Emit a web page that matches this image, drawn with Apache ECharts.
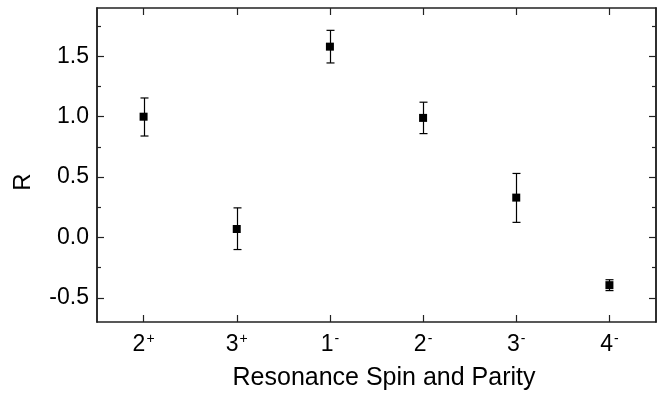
<!DOCTYPE html>
<html>
<head>
<meta charset="utf-8">
<script src="https://cdn.jsdelivr.net/npm/echarts@6/dist/echarts.min.js"></script>
<style>html,body{margin:0;padding:0;background:#fff}#chart{width:664px;height:401px}</style>
</head>
<body>
<div id="chart"></div>
<script>
// Data
var spins = ['2', '3', '1', '2', '3', '4'];
var parities = ['+', '+', '-', '-', '-', '-'];
var categories = spins.map(function (s, i) { return s + parities[i]; });
var values = [1.00, 0.07, 1.58, 0.99, 0.33, -0.395];
var errUp = [0.155, 0.175, 0.135, 0.13, 0.20, 0.045];
var errDown = [0.16, 0.17, 0.135, 0.13, 0.205, 0.045];
var yMajorTicks = [-0.5, 0.0, 0.5, 1.0, 1.5];
var yMinorTicks = [-0.75, -0.25, 0.25, 0.75, 1.25, 1.75];

var FONT = '"Liberation Sans", Arial, sans-serif';
var AX = '#222';

var chart = echarts.init(document.getElementById('chart'));

var pointData = values.map(function (v, i) { return [i, v]; });
var errData = values.map(function (v, i) { return [i, v - errDown[i], v + errUp[i]]; });

function yAxisBase(pos, ticks, len, showLabel) {
  return {
    type: 'value', position: pos, min: -0.7, max: 1.9,
    axisLine: { show: true, onZero: false, lineStyle: { color: AX, width: 1.5 } },
    axisTick: { show: true, inside: true, length: len, customValues: ticks, lineStyle: { color: AX, width: 1.2 } },
    axisLabel: showLabel ? {
      show: true, customValues: ticks, margin: 8, fontSize: 23, fontFamily: FONT, color: '#000',
      formatter: function (v) { return Number(v).toFixed(1); }
    } : { show: false },
    splitLine: { show: false }
  };
}

var option = {
  animation: false,
  backgroundColor: '#fff',
  grid: { left: 97, right: 8, top: 8, bottom: 79, containLabel: false },
  xAxis: [
    {
      type: 'category', position: 'bottom', data: categories, boundaryGap: true,
      axisLine: { show: true, onZero: false, lineStyle: { color: AX, width: 1.5 } },
      axisTick: { show: true, inside: true, alignWithLabel: true, length: 7, lineStyle: { color: AX, width: 1.2 } },
      axisLabel: {
        show: true, margin: 10, interval: 0, color: '#000', fontFamily: FONT,
        formatter: function (v, i) { return '{m|' + spins[i] + '}{s|' + parities[i] + '}'; },
        rich: {
          m: { fontSize: 23, fontFamily: FONT, color: '#000', lineHeight: 25 },
          s: { fontSize: 14, fontFamily: FONT, color: '#000', verticalAlign: 'top', lineHeight: 25, padding: [0, 0, 12, 1] }
        }
      },
      name: 'Resonance Spin and Parity', nameLocation: 'middle', nameGap: 44,
      nameTextStyle: { fontSize: 25, fontFamily: FONT, color: '#000', padding: [0, 0, 0, 15] },
      splitLine: { show: false }
    },
    {
      type: 'category', position: 'top', data: categories, boundaryGap: true,
      axisLine: { show: true, onZero: false, lineStyle: { color: AX, width: 1.5 } },
      axisTick: { show: true, inside: true, alignWithLabel: true, length: 7, lineStyle: { color: AX, width: 1.2 } },
      axisLabel: { show: false }, splitLine: { show: false }
    }
  ],
  yAxis: [
    Object.assign(yAxisBase('left', yMajorTicks, 7, true), {
      name: 'R', nameLocation: 'middle', nameGap: 62, nameRotate: 90,
      nameTextStyle: { fontSize: 24, fontFamily: FONT, color: '#000', padding: [0, 34, 0, 0] }
    }),
    yAxisBase('right', yMajorTicks, 7, false),
    yAxisBase('left', yMinorTicks, 4, false),
    yAxisBase('right', yMinorTicks, 4, false)
  ],
  series: [
    {
      type: 'custom', xAxisIndex: 0, yAxisIndex: 0, data: errData, z: 2,
      renderItem: function (params, api) {
        var x = api.value(0);
        var lo = api.coord([x, api.value(1)]);
        var hi = api.coord([x, api.value(2)]);
        var cx = Math.round(lo[0]) + 0.5;
        var hw = 4;
        var st = { stroke: '#000', lineWidth: 1.2 };
        return {
          type: 'group', children: [
            { type: 'line', shape: { x1: cx, y1: lo[1], x2: cx, y2: hi[1] }, style: st },
            { type: 'line', shape: { x1: cx - hw, y1: lo[1], x2: cx + hw, y2: lo[1] }, style: st },
            { type: 'line', shape: { x1: cx - hw, y1: hi[1], x2: cx + hw, y2: hi[1] }, style: st }
          ]
        };
      }
    },
    {
      type: 'scatter', xAxisIndex: 0, yAxisIndex: 0, data: pointData, z: 3,
      symbol: 'rect', symbolSize: 8, itemStyle: { color: '#000', opacity: 1 }
    }
  ]
};
chart.setOption(option);
</script>
</body>
</html>
